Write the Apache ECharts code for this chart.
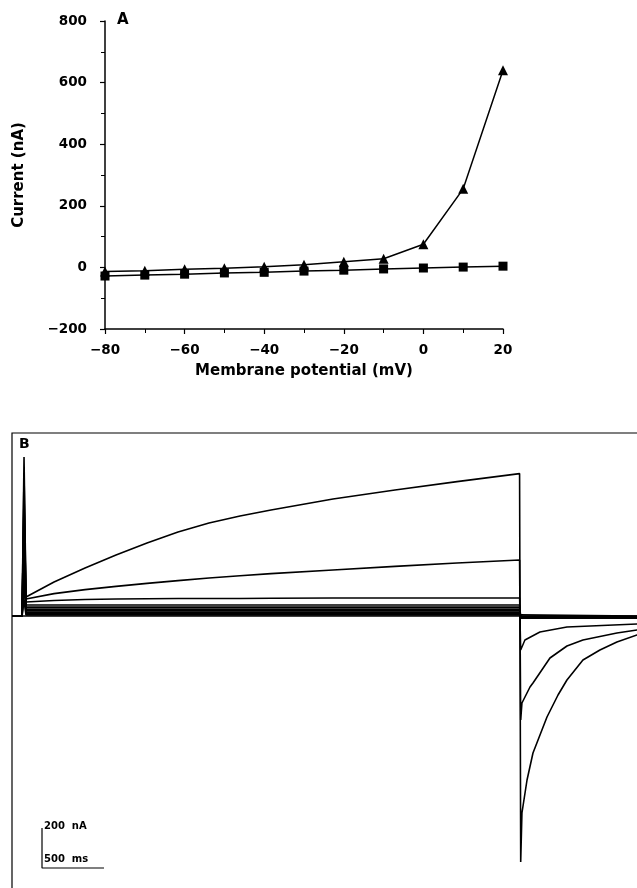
<!DOCTYPE html>
<html>
<head>
<meta charset="utf-8">
<script src="https://cdn.jsdelivr.net/npm/echarts@6/dist/echarts.min.js"></script>
<style>
html,body{margin:0;padding:0;background:#fff;}
#c{width:637px;height:888px;}
</style>
</head>
<body>
<div id="c"></div>
<script>
// ---------- Panel A data ----------
const voltages = [-80, -70, -60, -50, -40, -30, -20, -10, 0, 10, 20];
const triangleCurrent = [-13, -11, -6, -3, 2, 9, 18, 28, 75, 255, 640];
const squareCurrent = [-28, -25, -22, -18, -16, -12, -9, -5, -2, 1, 4];

// ---------- Panel B data (time in ms, current in nA) ----------
const preTimes = [-89, -8];
const pulseTimes = [8, 24, 250, 500, 750, 1000, 1250, 1500, 1750, 2000, 2500, 3000, 3500, 4005];
const flatPulseTimes = [8, 24, 4005];

const trace20 = [795, 95, 170, 240, 305, 365, 420, 465, 500, 530, 585, 630, 672, 712];
const trace10 = [715, 85, 112, 132, 148, 163, 177, 190, 201, 212, 230, 248, 265, 280];
const trace0  = [635, 70, 78, 82, 85, 86, 87, 88, 88, 89, 90, 90, 90, 90];

const tail20Times = [4014, 4024, 4065, 4113, 4226, 4315, 4387, 4516, 4653, 4790, 4952, 5073];
const tail20 = [-1230, -985, -820, -685, -505, -395, -320, -220, -170, -130, -95, -85];
const tail10Times = [4014, 4024, 4089, 4113, 4250, 4387, 4516, 4790, 4952, 5073];
const tail10 = [-520, -435, -355, -335, -210, -150, -120, -85, -70, -65];
const tail0Times = [4014, 4048, 4169, 4387, 4952, 5073];
const tail0 = [-170, -120, -80, -55, -40, -38];
const flatTailTimes = [4014, 5073];

// small (flat) traces, -10 mV down to -80 mV: spike peak, steady level, tail level
const flatSpikes = [555, 475, 395, 315, 235, 160, 80, 0];
const flatLevels = [55, 44, 34, 26, 18, 12, 6, 0];
const flatTail = [-10, -10, -10, -8, -6, -4, -2, 0];

// scale bar: 200 nA, 500 ms
const scaleCorner = [153, -1260];
const scaleCurrent = 200;
const scaleTime = 500;

// ---------- build ----------
const pairs = (xs, ys) => xs.map((x, i) => [x, ys[i]]);

const bSeries = [];
function addTrace(pTimes, pVals, tTimes, tVals, w) {
  const d = pairs(preTimes, [0, 0]).concat(pairs(pTimes, pVals), pairs(tTimes, tVals));
  bSeries.push({
    type: 'line', xAxisIndex: 1, yAxisIndex: 1, data: d,
    showSymbol: false, symbol: 'none', lineStyle: { color: '#000', width: w }, silent: true, z: 3
  });
}
for (let i = flatSpikes.length - 1; i >= 0; i--) {
  addTrace(flatPulseTimes, [flatSpikes[i], flatLevels[i], flatLevels[i]],
           flatTailTimes, [flatTail[i], flatTail[i]], 1.7);
}
addTrace(pulseTimes, trace0, tail0Times, tail0, 1.5);
addTrace(pulseTimes, trace10, tail10Times, tail10, 1.6);
addTrace(pulseTimes, trace20, tail20Times, tail20, 1.6);

bSeries.push({
  type: 'line', xAxisIndex: 1, yAxisIndex: 1, symbol: 'none', silent: true,
  lineStyle: { color: '#000', width: 1.2 },
  data: [
    [scaleCorner[0], scaleCorner[1] + scaleCurrent],
    [scaleCorner[0], scaleCorner[1]],
    [scaleCorner[0] + scaleTime, scaleCorner[1]]
  ]
});

const font = 'DejaVu Sans';
const minus = v => String(v).replace('-', '\u2212');
const chart = echarts.init(document.getElementById('c'), null, { renderer: 'canvas', width: 637, height: 888 });
chart.setOption({
  animation: false,
  backgroundColor: '#fff',
  grid: [
    { left: 105, top: 21, width: 398, height: 308, outerBoundsMode: 'none', containLabel: false },
    { left: 12, top: 433, width: 640, height: 467, show: true, borderColor: '#000', borderWidth: 1.2,
      backgroundColor: 'transparent', outerBoundsMode: 'none', containLabel: false }
  ],
  xAxis: [
    {
      gridIndex: 0, type: 'value', min: -80, max: 20, interval: 20,
      name: 'Membrane potential (mV)', nameLocation: 'middle', nameGap: 35,
      nameTextStyle: { fontFamily: font, fontSize: 15, fontWeight: 'bold', color: '#000' },
      axisLine: { onZero: false, lineStyle: { color: '#000', width: 1.5 } },
      axisTick: { inside: false, length: 5, lineStyle: { color: '#000', width: 1.2 } },
      minorTick: { show: true, splitNumber: 2, length: 4, lineStyle: { color: '#000', width: 1 } },
      axisLabel: { fontFamily: font, fontSize: 13.5, fontWeight: 'bold', color: '#000', margin: 14, formatter: minus },
      splitLine: { show: false }
    },
    {
      gridIndex: 1, type: 'value', min: -89, max: 5073, show: false,
      axisLine: { show: false }, axisTick: { show: false }, axisLabel: { show: false }, splitLine: { show: false }
    }
  ],
  yAxis: [
    {
      gridIndex: 0, type: 'value', min: -200, max: 800, interval: 200,
      name: 'Current (nA)', nameLocation: 'middle', nameGap: 78, nameRotate: 90,
      nameTextStyle: { fontFamily: font, fontSize: 15, fontWeight: 'bold', color: '#000' },
      axisLine: { show: true, onZero: false, lineStyle: { color: '#000', width: 1.5 } },
      axisTick: { show: true, inside: false, length: 5, lineStyle: { color: '#000', width: 1.2 } },
      minorTick: { show: true, splitNumber: 2, length: 4, lineStyle: { color: '#000', width: 1 } },
      axisLabel: { fontFamily: font, fontSize: 13.5, fontWeight: 'bold', color: '#000', margin: 18, formatter: minus },
      splitLine: { show: false }
    },
    {
      gridIndex: 1, type: 'value', min: -1420, max: 915, show: false,
      axisLine: { show: false }, axisTick: { show: false }, axisLabel: { show: false }, splitLine: { show: false }
    }
  ],
  graphic: [
    { type: 'text', left: 117, top: 13, style: { text: 'A', font: 'bold 15px "DejaVu Sans"', fill: '#000' } },
    { type: 'text', left: 19, top: 437, style: { text: 'B', font: 'bold 14px "DejaVu Sans"', fill: '#000' } },
    { type: 'text', left: 44, top: 821, style: { text: '200  nA', font: 'bold 10px "DejaVu Sans"', fill: '#000' } },
    { type: 'text', left: 44, top: 854, style: { text: '500  ms', font: 'bold 10px "DejaVu Sans"', fill: '#000' } }
  ],
  series: [
    {
      type: 'line', xAxisIndex: 0, yAxisIndex: 0, data: pairs(voltages, squareCurrent),
      symbol: 'rect', symbolSize: 9, itemStyle: { color: '#000' },
      lineStyle: { color: '#000', width: 1.5 }, z: 3
    },
    {
      type: 'line', xAxisIndex: 0, yAxisIndex: 0, data: pairs(voltages, triangleCurrent),
      symbol: 'triangle', symbolSize: 10, itemStyle: { color: '#000' },
      lineStyle: { color: '#000', width: 1.5 }, z: 4
    }
  ].concat(bSeries)
});
</script>
</body>
</html>
